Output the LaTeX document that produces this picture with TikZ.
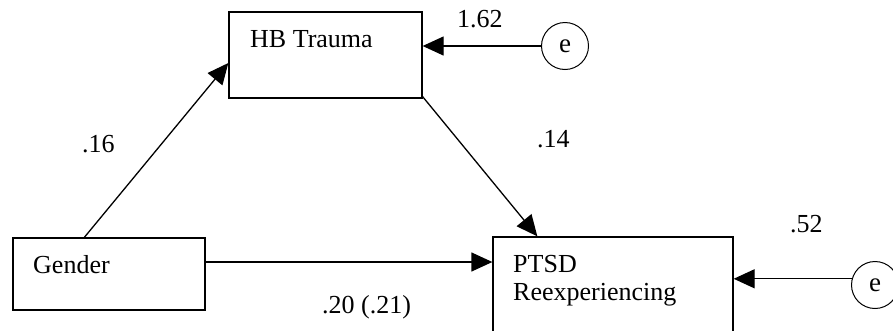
\documentclass[tikz,border=0pt]{standalone}
\usepackage{fontspec}
\setmainfont{Liberation Serif}
\usetikzlibrary{arrows.meta}
\begin{document}
\begin{tikzpicture}[x=1pt,y=-1pt,
  box/.style={draw,line width=1.3pt,rectangle,inner sep=0pt},
  err/.style={draw,line width=1pt,circle,minimum size=47pt,inner sep=0pt,font=\fontsize{27}{30}\selectfont},
  txt/.style={anchor=base west,inner sep=0pt,font=\fontsize{26}{30}\selectfont},
  path/.style={line width=1.3pt,-{Triangle[length=21pt,width=19pt]}}]
\useasboundingbox (0,0) rectangle (893,330);
% boxes
\node[box,minimum width=193pt,minimum height=86pt] (hb) at (325.5,55) {};
\node[box,minimum width=192pt,minimum height=72pt] (gender) at (109,274) {};
\node[box,minimum width=240pt,minimum height=98pt] (ptsd) at (613,286) {};
% box texts
\node[txt] (hbt) at (250,47) {HB Trauma};
\node[txt] (gt) at (33,273) {Gender};
\node[txt] (pt1) at (513,272) {PTSD};
\node[txt] (pt2) at (513,300) {Reexperiencing};
% error terms
\node[err] (e1) at (565,46) {e};
\node[err] (e2) at (875,285) {e};
% paths
\draw[path] ([xshift=72pt]gender.north west) -- ([yshift=-8pt]hb.west);
\draw[path] ([yshift=2pt]hb.south east) -- ([xshift=45pt]ptsd.north west);
\draw[path] ([yshift=12pt]gender.east) -- ([yshift=12pt]gender.east -| ptsd.west);
\draw[path] (e1.west) -- (e1.west -| hb.east);
\draw[path] (e2.165) -- (e2.165 -| ptsd.east);
% coefficients
\node[txt] (c162) at (457,27) {1.62};
\node[txt] (c16) at (82,152) {.16};
\node[txt] (c14) at (537,147) {.14};
\node[txt] (c20) at (322,313) {.20 (.21)};
\node[txt] (c52) at (790,232) {.52};
\end{tikzpicture}
\end{document}
